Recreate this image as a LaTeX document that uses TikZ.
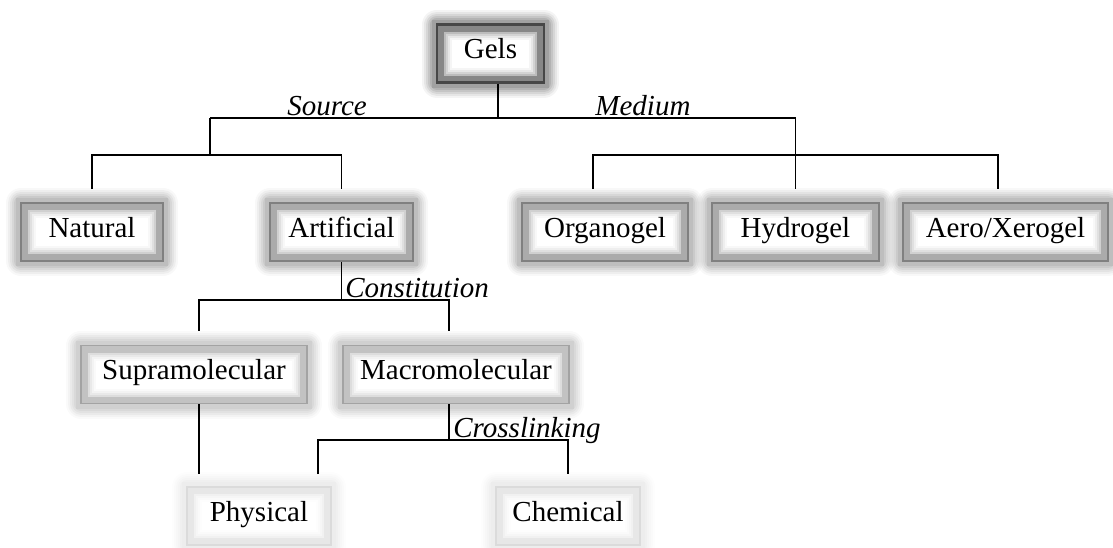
\documentclass[tikz,border=0pt]{standalone}
\usepackage{fontspec}
\setmainfont{Liberation Serif}
\usetikzlibrary{calc}

\tikzset{
  gelbox/.style={rectangle, draw=#1, line width=0.8pt, fill=white, inner sep=0pt,
    minimum height=29pt, text height=9pt, text depth=4pt,
    font=\fontsize{14.5}{17}\selectfont,
    preaction={draw=#1, line width=15pt, opacity=.06, line join=round},
    preaction={draw=#1, line width=13pt, opacity=.08, line join=round},
    preaction={draw=#1, line width=11pt, opacity=.10, line join=round},
    preaction={draw=#1, line width=9pt, opacity=.12, line join=round},
    preaction={draw=#1, line width=7pt, opacity=.14, line join=round},
    preaction={draw=#1, line width=5pt, opacity=.16},
    path picture={
      \foreach \w/\o in {15/.05, 13/.08, 11/.12, 9/.16, 7/.45}
        \draw[#1, line width=\w pt, opacity=\o]
          (path picture bounding box.south west) rectangle (path picture bounding box.north east);
    }},
  tag/.style={anchor=base west, inner sep=0pt, font=\fontsize{14.5}{17}\selectfont\itshape},
  link/.style={line width=0.6pt},
}

\begin{document}
\begin{tikzpicture}[x=0.5pt, y=-0.5pt]
  \useasboundingbox (0,0) rectangle (1113,547);

  % boxes
  \node[gelbox=black!72, line width=1.4pt, minimum width=53.5pt] (gels) at (490.5,53.5) {Gels};
  \node[gelbox=black!50, minimum width=71pt]    (natural)    at (92,232)     {Natural};
  \node[gelbox=black!50, minimum width=71.5pt]  (artificial) at (341.5,232)  {Artificial};
  \node[gelbox=black!50, minimum width=83pt]    (organogel)  at (605,232)    {Organogel};
  \node[gelbox=black!50, minimum width=83.5pt]  (hydrogel)   at (795.5,232)  {Hydrogel};
  \node[gelbox=black!50, minimum width=102.5pt] (aerogel)    at (1005.5,232) {Aero/Xerogel};
  \node[gelbox=black!36, minimum width=113pt]   (supra)      at (194,374.5)  {Supramolecular};
  \node[gelbox=black!36, minimum width=113pt]   (macro)      at (456,374.5)  {Macromolecular};
  \node[gelbox=black!14, minimum width=72pt]    (physical)   at (259,516)    {Physical};
  \node[gelbox=black!14, minimum width=72pt]    (chemical)   at (568,516)    {Chemical};

  % bar heights
  \coordinate (barA) at (0,118);
  \coordinate (barB) at (0,155);
  \coordinate (barC) at (0,300);
  \coordinate (barD) at (0,440);
  \coordinate (src) at (210,118);

  % source / medium
  \draw[link] ([xshift=3.75pt]gels.south) -- ([xshift=3.75pt]gels.south |- barA);
  \draw[link] (src) -- (hydrogel.north |- barA) -- ([yshift=6.5pt]hydrogel.north);
  \draw[link] (src) -- (src |- barB);
  \draw[link] ([yshift=6.5pt]natural.north) -- (natural.north |- barB)
    -- (artificial.north |- barB) -- ([yshift=6.5pt]artificial.north);
  \draw[link] ([xshift=-6pt,yshift=6.5pt]organogel.north) -- ([xshift=-6pt]organogel.north |- barB)
    -- ([xshift=-3.75pt]aerogel.north |- barB) -- ([xshift=-3.75pt,yshift=6.5pt]aerogel.north);

  % constitution
  \draw[link] (artificial.south) -- (artificial.south |- barC);
  \draw[link] ([xshift=2.5pt,yshift=7pt]supra.north) -- ([xshift=2.5pt]supra.north |- barC)
    -- ([xshift=-3.5pt]macro.north |- barC) -- ([xshift=-3.5pt,yshift=7pt]macro.north);
  \draw[link] ([xshift=2.5pt]supra.south) -- ([xshift=-30pt,yshift=6pt]physical.north);

  % crosslinking
  \draw[link] ([xshift=-3.5pt]macro.south) -- ([xshift=-3.5pt]macro.south |- barD);
  \draw[link] ([xshift=29.5pt,yshift=6pt]physical.north) -- ([xshift=29.5pt]physical.north |- barD)
    -- (chemical.north |- barD) -- ([yshift=6pt]chemical.north);

  % labels
  \node[tag] (source) at (287,115) {Source};
  \node[tag] (medium) at (595,115) {Medium};
  \node[tag] (constitution) at (345,297) {Constitution};
  \node[tag] (crosslinking) at (453,437) {Crosslinking};
\end{tikzpicture}
\end{document}
